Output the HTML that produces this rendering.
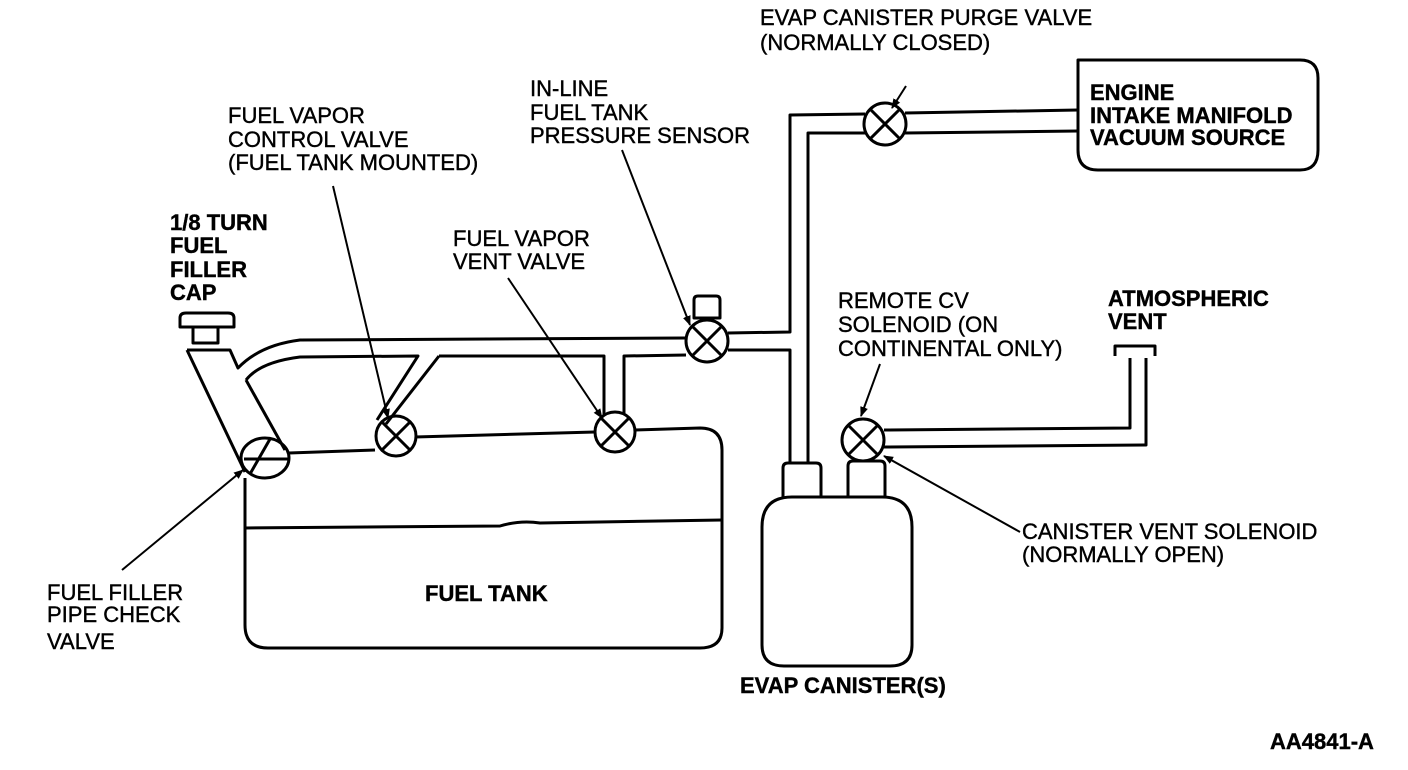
<!DOCTYPE html>
<html><head><style>
html,body{margin:0;padding:0;background:#fff;}
svg{display:block;}
text{font-family:"Liberation Sans",Arial,sans-serif;font-size:22px;fill:#000;stroke:#000;stroke-width:0.4;}
.b{font-weight:bold;}
</style></head><body>
<svg width="1408" height="770" viewBox="0 0 1408 770" xmlns="http://www.w3.org/2000/svg">
<defs><marker id="ah" markerWidth="10" markerHeight="10" refX="9" refY="5" orient="auto" markerUnits="userSpaceOnUse"><path d="M0,1 L10,5 L0,9 Z" fill="#000"/></marker></defs>
<g fill="none" stroke="#000" stroke-width="3" stroke-linejoin="round">
<path d="M180,327 L180,318 Q180,313 186,313 L228,313 Q234,313 234,318 L234,327 Z"/>
<rect x="193" y="327" width="25" height="16"/>
<path d="M187,350 L230,350 L238,368 Q260,345 300,340 L685,338"/>
<path d="M187,350 L245,472"/>
<path d="M246,380 Q260,362 300,357 L418,356 L377,420"/>
<path d="M439,356 L386,424"/>
<path d="M439,356 L604,356 L604,415"/>
<path d="M624,415 L624,356 L686,355"/>
<path d="M246,380 L285,450"/>
<path d="M289,453 L375,450"/>
<path d="M415,437 L595,432"/>
<path d="M635,430 L700,428 Q722,428 722,450 L722,628 Q722,648 700,648 L268,648 Q245,648 245,625 L245,478"/>
<path d="M245,528 L500,526 Q520,520 540,523 L722,520"/>
<ellipse cx="265" cy="458" rx="24" ry="20"/>
<path d="M250,474 L270,439 M244,459 L288,459" />
<circle cx="396" cy="436" r="20"/><path d="M382,422 L410,450 M410,422 L382,450"/>
<circle cx="615" cy="432" r="20"/><path d="M601,418 L629,446 M629,418 L601,446"/>
<circle cx="707" cy="341" r="21"/><path d="M692,326 L722,356 M722,326 L692,356"/>
<path d="M694,318 L694,300 Q694,296 698,296 L716,296 Q720,296 720,300 L720,318 Z"/>
<path d="M728,333 L790,332 L790,115 L865,114"/>
<path d="M728,350 L790,350 L790,462"/>
<path d="M808,462 L808,133 L866,133"/>
<circle cx="885" cy="124" r="21"/><path d="M870,109 L900,139 M900,109 L870,139"/>
<path d="M905,113 L1078,110 M905,133 L1078,131"/>
<path d="M1098,60 L1300,60 Q1318,60 1318,78 L1318,150 Q1318,170 1300,170 L1098,170 Q1078,170 1078,150 L1078,60 Z"/>
<path d="M783,497 L783,468 Q783,463 788,463 L816,463 Q821,463 821,468 L821,497"/>
<path d="M848,497 L848,466 Q848,461 853,461 L880,461 Q885,461 885,466 L885,497"/>
<path d="M792,497 L882,497 Q912,497 912,527 L912,645 Q912,666 890,666 L784,666 Q762,666 762,645 L762,527 Q762,497 792,497 Z"/>
<circle cx="863" cy="440" r="21"/><path d="M848,425 L878,455 M878,425 L848,455"/>
<path d="M884,430 L1130,428 L1130,358"/>
<path d="M884,447 L1146,445 L1146,358"/>
<path d="M1115,356 L1115,346 L1155,346 L1155,356"/>
</g>
<g stroke="#000" stroke-width="2" fill="none" marker-end="url(#ah)">
<line x1="906" y1="86" x2="892" y2="108"/>
<line x1="622" y1="150" x2="690" y2="325"/>
<line x1="333" y1="186" x2="388" y2="418"/>
<line x1="508" y1="278" x2="602" y2="418"/>
<line x1="122" y1="570" x2="243" y2="470"/>
<line x1="880" y1="364" x2="861" y2="416"/>
<line x1="1020" y1="532" x2="884" y2="456"/>
</g>
<text x="760" y="25">EVAP CANISTER PURGE VALVE</text>
<text x="760" y="50">(NORMALLY CLOSED)</text>
<text class="b" x="1090" y="100">ENGINE</text>
<text class="b" x="1090" y="123">INTAKE MANIFOLD</text>
<text class="b" x="1090" y="145">VACUUM SOURCE</text>
<text x="530" y="96">IN-LINE</text>
<text x="530" y="120">FUEL TANK</text>
<text x="530" y="143">PRESSURE SENSOR</text>
<text x="228" y="123">FUEL VAPOR</text>
<text x="228" y="147">CONTROL VALVE</text>
<text x="228" y="170">(FUEL TANK MOUNTED)</text>
<text class="b" x="170" y="230">1/8 TURN</text>
<text class="b" x="170" y="253">FUEL</text>
<text class="b" x="170" y="277">FILLER</text>
<text class="b" x="170" y="300">CAP</text>
<text x="453" y="246">FUEL VAPOR</text>
<text x="453" y="269">VENT VALVE</text>
<text x="838" y="308">REMOTE CV</text>
<text x="838" y="332">SOLENOID (ON</text>
<text x="838" y="356">CONTINENTAL ONLY)</text>
<text class="b" x="1108" y="306">ATMOSPHERIC</text>
<text class="b" x="1108" y="329">VENT</text>
<text x="1022" y="539">CANISTER VENT SOLENOID</text>
<text x="1022" y="562">(NORMALLY OPEN)</text>
<text x="47" y="600">FUEL FILLER</text>
<text x="47" y="622">PIPE CHECK</text>
<text x="47" y="649">VALVE</text>
<text class="b" x="425" y="601">FUEL TANK</text>
<text class="b" x="740" y="693">EVAP CANISTER(S)</text>
<text class="b" x="1270" y="749">AA4841-A</text>
</svg>
</body></html>
